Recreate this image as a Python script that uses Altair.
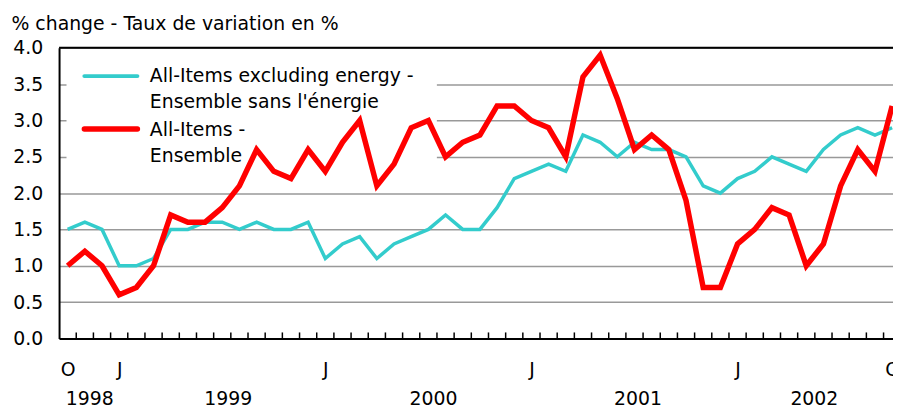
import json
import altair as alt
import pandas as pd

# ---- data ----
months = [str(p) for p in pd.period_range("1998-10", "2002-10", freq="M")]
month_letters = ["J", "F", "M", "A", "M", "J", "J", "A", "S", "O", "N", "D"]
all_items = [1.0, 1.2, 1.0, 0.6, 0.7, 1.0, 1.7, 1.6, 1.6, 1.8, 2.1, 2.6, 2.3, 2.2, 2.6,
             2.3, 2.7, 3.0, 2.1, 2.4, 2.9, 3.0, 2.5, 2.7, 2.8, 3.2, 3.2,
             3.0, 2.9, 2.5, 3.6, 3.9, 3.3, 2.6, 2.8, 2.6, 1.9, 0.7, 0.7,
             1.3, 1.5, 1.8, 1.7, 1.0, 1.3, 2.1, 2.6, 2.3, 3.2]
excl_energy = [1.5, 1.6, 1.5, 1.0, 1.0, 1.1, 1.5, 1.5, 1.6, 1.6, 1.5, 1.6, 1.5, 1.5, 1.6,
               1.1, 1.3, 1.4, 1.1, 1.3, 1.4, 1.5, 1.7, 1.5, 1.5, 1.8, 2.2,
               2.3, 2.4, 2.3, 2.8, 2.7, 2.5, 2.7, 2.6, 2.6, 2.5, 2.1, 2.0,
               2.2, 2.3, 2.5, 2.4, 2.3, 2.6, 2.8, 2.9, 2.8, 2.9]
series_names = ["All-Items excluding energy -\nEnsemble sans l'énergie",
                "All-Items -\nEnsemble"]
y_ticks = [0.0, 0.5, 1.0, 1.5, 2.0, 2.5, 3.0, 3.5, 4.0]
x_label_months = ["1998-10", "1999-01", "2000-01", "2001-01", "2002-01", "2002-10"]
year_labels = ["1998", "1999", "2000", "2001", "2002"]
year_label_at = [1.28, 9.35, 21.3, 33.2, 43.47]   # month index where each year label sits
y_title = "% change - Taux de variation en %"

# ---- styles ----
colors = ["#33CCCC", "#FF0000"]
widths = [3.5, 5.5]
FONT = "DejaVu Sans"
FS = 19
W, H = 841, 293

rows = []
for name, vals in zip(series_names, [excl_energy, all_items]):
    for i, (m, v) in enumerate(zip(months, vals)):
        rows.append({"series": name, "idx": i, "month": m, "value": v})
df = pd.DataFrame(rows)

letters = [month_letters[int(m[5:7]) - 1] for m in months]
x_label_idx = [months.index(m) for m in x_label_months]

x_scale = alt.Scale(domain=[-0.5, 48.05], nice=False, zero=False)
y_scale = alt.Scale(domain=[0, 4], nice=False, zero=True)

x_axis = alt.Axis(values=x_label_idx, labelExpr=f"{json.dumps(letters)}[datum.value]",
                  title=None, grid=False, ticks=False, tickSize=0, domainColor="black",
                  domainWidth=2, labelFont=FONT, labelFontSize=FS, labelColor="black",
                  labelPadding=22, labelBaseline="top", labelAngle=0, labelFlush=False,
                  labelOverlap=False)
y_axis = alt.Axis(values=y_ticks, format=".1f", title=y_title, titleAngle=0,
                  titleAlign="left", titleBaseline="alphabetic", titleX=-48.5, titleY=-19,
                  titleFont=FONT, titleFontSize=FS, titleFontWeight="normal",
                  titleColor="black", labelFont=FONT, labelFontSize=FS, labelColor="black",
                  labelPadding=16.5, ticks=False, tickSize=0, domainColor="black",
                  domainWidth=2, grid=True, gridColor="#999999", gridWidth=1.5)

X = alt.X("idx:Q", scale=x_scale, axis=x_axis)
Y = alt.Y("value:Q", scale=y_scale, axis=y_axis)

one = pd.DataFrame({"a": [0]})

box = alt.Chart(one).mark_rect(color="white").encode(
    x=alt.value(7.5), x2=alt.value(381), y=alt.value(1.5), y2=alt.value(124))

top_rule = alt.Chart(one).mark_rule(color="black", strokeWidth=2).encode(
    x=alt.value(0), x2=alt.value(W), y=alt.value(0))

bounds = pd.DataFrame({"idx": [i + 0.5 for i in range(len(months) - 1)]})
month_ticks = alt.Chart(bounds).mark_rule(color="black", strokeWidth=1.5).encode(
    x=X, y=alt.value(H), y2=alt.value(H - 6))

lines = []
for name, c, w in zip(series_names, colors, widths):
    lines.append(
        alt.Chart(df).transform_filter(alt.datum.series == name)
        .mark_line(color=c, strokeWidth=w)
        .encode(x=X, y=Y)
    )

legend_df = pd.DataFrame({"series": series_names})
legend_layers = []
sym_y = [28.5, 81.8]
txt_y = [34.1, 89.1]
for name, c, w, sy, ty in zip(series_names, colors, [4, 5.5], sym_y, txt_y):
    legend_layers.append(
        alt.Chart(legend_df).transform_filter(alt.datum.series == name)
        .mark_rule(color=c, strokeWidth=w, strokeCap="round")
        .encode(x=alt.value(25.5), x2=alt.value(79), y=alt.value(sy))
    )
    legend_layers.append(
        alt.Chart(legend_df).transform_filter(alt.datum.series == name)
        .mark_text(align="left", baseline="alphabetic", lineBreak="\n", lineHeight=26.5,
                   font=FONT, fontSize=FS, color="black")
        .encode(text="series:N", x=alt.value(91.5), y=alt.value(ty))
    )

years_df = pd.DataFrame({"idx": year_label_at, "year": year_labels})
years = alt.Chart(years_df).mark_text(align="center", baseline="alphabetic", font=FONT,
                                      fontSize=FS, color="black").encode(
    x=X, y=alt.value(360.5), text="year:N")

chart = alt.layer(box, top_rule, month_ticks, *lines, *legend_layers, years).properties(
    width=W, height=H,
    padding={"left": 51.5, "top": 38.5, "right": 0, "bottom": 68.5},
    autosize=alt.AutoSizeParams(type="none"),
    background="white",
).configure_view(stroke=None)

chart.save("out.html", embed_options={"renderer": "svg", "actions": False})
